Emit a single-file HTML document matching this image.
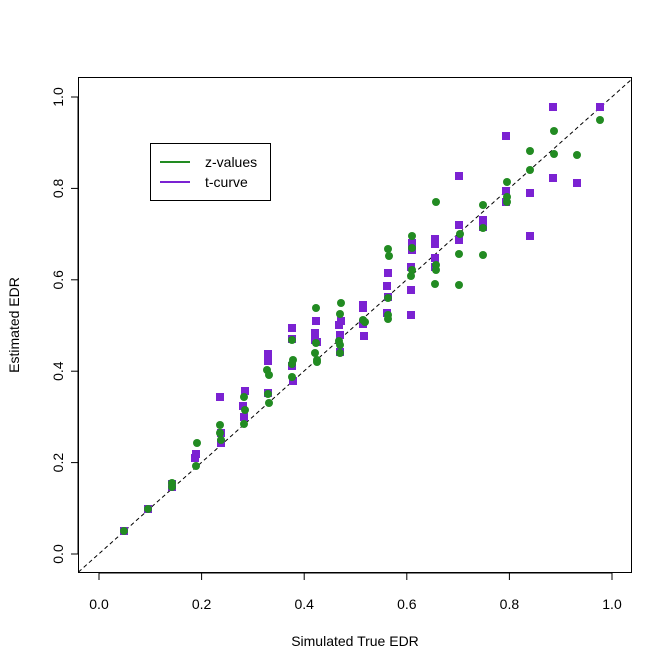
<!DOCTYPE html>
<html><head><meta charset="utf-8"><style>
body{margin:0;background:#fff;}
svg{display:block;font-family:"Liberation Sans",Arial,sans-serif;}
</style></head><body>
<svg width="672" height="671" xmlns="http://www.w3.org/2000/svg">
<rect width="672" height="671" fill="#fff"/>
<defs><clipPath id="c"><rect x="78" y="77" width="554" height="496"/></clipPath></defs>
<line x1="78.5" y1="572" x2="632" y2="79" stroke="#000" stroke-width="1" stroke-dasharray="4,3" clip-path="url(#c)"/>
<g fill="#7b22d2">
<rect x="120" y="527" width="8" height="8"/><rect x="144" y="505" width="8" height="8"/><rect x="168" y="483" width="8" height="8"/><rect x="168" y="480" width="8" height="8"/>
<rect x="192" y="450" width="8" height="8"/><rect x="191" y="454" width="8" height="8"/>
<rect x="216" y="393" width="8" height="8"/><rect x="217" y="429" width="8" height="8"/><rect x="217" y="439" width="8" height="8"/>
<rect x="241" y="387" width="8" height="8"/><rect x="239" y="402" width="8" height="8"/><rect x="240" y="413" width="8" height="8"/>
<rect x="264" y="350" width="8" height="8"/><rect x="264" y="357" width="8" height="8"/><rect x="264" y="389" width="8" height="8"/>
<rect x="288" y="324" width="8" height="8"/><rect x="288" y="335" width="8" height="8"/><rect x="288" y="362" width="8" height="8"/><rect x="289" y="377" width="8" height="8"/>
<rect x="312" y="317" width="8" height="8"/><rect x="311" y="329" width="8" height="8"/><rect x="311" y="336" width="8" height="8"/><rect x="313" y="338" width="8" height="8"/>
<rect x="337" y="317" width="8" height="8"/><rect x="335" y="321" width="8" height="8"/><rect x="336" y="331" width="8" height="8"/><rect x="336" y="348" width="8" height="8"/>
<rect x="359" y="301" width="8" height="8"/><rect x="359" y="304" width="8" height="8"/><rect x="359" y="320" width="8" height="8"/><rect x="360" y="332" width="8" height="8"/>
<rect x="383" y="309" width="8" height="8"/><rect x="384" y="269" width="8" height="8"/><rect x="383" y="282" width="8" height="8"/><rect x="384" y="293" width="8" height="8"/>
<rect x="407" y="311" width="8" height="8"/><rect x="408" y="239" width="8" height="8"/><rect x="408" y="246" width="8" height="8"/><rect x="407" y="263" width="8" height="8"/><rect x="407" y="286" width="8" height="8"/>
<rect x="431" y="235" width="8" height="8"/><rect x="431" y="240" width="8" height="8"/><rect x="431" y="254" width="8" height="8"/><rect x="431" y="263" width="8" height="8"/>
<rect x="455" y="172" width="8" height="8"/><rect x="455" y="221" width="8" height="8"/><rect x="455" y="236" width="8" height="8"/>
<rect x="479" y="216" width="8" height="8"/><rect x="479" y="223" width="8" height="8"/>
<rect x="502" y="132" width="8" height="8"/><rect x="502" y="187" width="8" height="8"/><rect x="502" y="198" width="8" height="8"/>
<rect x="526" y="189" width="8" height="8"/><rect x="526" y="232" width="8" height="8"/>
<rect x="549" y="103" width="8" height="8"/><rect x="549" y="174" width="8" height="8"/>
<rect x="573" y="179" width="8" height="8"/><rect x="596" y="103" width="8" height="8"/>
</g>
<g fill="#228b22">
<circle cx="124" cy="531" r="4"/><circle cx="148" cy="509" r="4"/><circle cx="172" cy="483" r="4"/><circle cx="172" cy="487" r="4"/>
<circle cx="196" cy="466" r="4"/><circle cx="197" cy="443" r="4"/>
<circle cx="220" cy="425" r="4"/><circle cx="220" cy="433" r="4"/><circle cx="221" cy="440" r="4"/>
<circle cx="244" cy="397" r="4"/><circle cx="245" cy="410" r="4"/><circle cx="244" cy="424" r="4"/>
<circle cx="267" cy="370" r="4"/><circle cx="269" cy="375" r="4"/><circle cx="268" cy="394" r="4"/><circle cx="269" cy="403" r="4"/>
<circle cx="292" cy="340" r="4"/><circle cx="293" cy="360" r="4"/><circle cx="292" cy="364" r="4"/><circle cx="292" cy="377" r="4"/>
<circle cx="316" cy="308" r="4"/><circle cx="316" cy="343" r="4"/><circle cx="315" cy="353" r="4"/><circle cx="317" cy="360" r="4"/><circle cx="317" cy="362" r="4"/>
<circle cx="341" cy="303" r="4"/><circle cx="340" cy="314" r="4"/><circle cx="339" cy="341" r="4"/><circle cx="340" cy="345" r="4"/><circle cx="340" cy="353" r="4"/>
<circle cx="363" cy="320" r="4"/><circle cx="365" cy="322" r="4"/>
<circle cx="388" cy="249" r="4"/><circle cx="389" cy="256" r="4"/><circle cx="388" cy="298" r="4"/><circle cx="388" cy="315" r="4"/><circle cx="388" cy="319" r="4"/>
<circle cx="412" cy="236" r="4"/><circle cx="412" cy="248" r="4"/><circle cx="412" cy="270" r="4"/><circle cx="411" cy="276" r="4"/>
<circle cx="436" cy="202" r="4"/><circle cx="436" cy="265" r="4"/><circle cx="436" cy="270" r="4"/><circle cx="435" cy="284" r="4"/>
<circle cx="460" cy="234" r="4"/><circle cx="459" cy="254" r="4"/><circle cx="459" cy="285" r="4"/>
<circle cx="483" cy="205" r="4"/><circle cx="483" cy="228" r="4"/><circle cx="483" cy="255" r="4"/>
<circle cx="507" cy="182" r="4"/><circle cx="507" cy="197" r="4"/><circle cx="507" cy="202" r="4"/>
<circle cx="530" cy="151" r="4"/><circle cx="530" cy="170" r="4"/>
<circle cx="554" cy="131" r="4"/><circle cx="554" cy="154" r="4"/>
<circle cx="577" cy="155" r="4"/><circle cx="600" cy="120" r="4"/>
</g>
<rect x="78.5" y="77.5" width="553" height="495" fill="none" stroke="#000"/>
<g stroke="#000">
<line x1="99" y1="573" x2="612" y2="573"/>
<line x1="99" y1="573" x2="99" y2="580"/><line x1="201.6" y1="573" x2="201.6" y2="580"/><line x1="304.2" y1="573" x2="304.2" y2="580"/><line x1="406.8" y1="573" x2="406.8" y2="580"/><line x1="509.4" y1="573" x2="509.4" y2="580"/><line x1="612" y1="573" x2="612" y2="580"/>
<line x1="78" y1="554" x2="78" y2="97"/>
<line x1="71" y1="554" x2="78" y2="554"/><line x1="71" y1="462.6" x2="78" y2="462.6"/><line x1="71" y1="371.2" x2="78" y2="371.2"/><line x1="71" y1="279.8" x2="78" y2="279.8"/><line x1="71" y1="188.4" x2="78" y2="188.4"/><line x1="71" y1="97" x2="78" y2="97"/>
</g>
<g font-size="14" text-anchor="middle" fill="#000">
<text x="99" y="609">0.0</text><text x="201.6" y="609">0.2</text><text x="304.2" y="609">0.4</text><text x="406.8" y="609">0.6</text><text x="509.4" y="609">0.8</text><text x="612" y="609">1.0</text>
<g transform="rotate(-90)">
<text x="-554" y="63">0.0</text><text x="-462.6" y="63">0.2</text><text x="-371.2" y="63">0.4</text><text x="-279.8" y="63">0.6</text><text x="-188.4" y="63">0.8</text><text x="-97" y="63">1.0</text>
<text x="-325" y="19">Estimated EDR</text>
</g>
<text x="355" y="646">Simulated True EDR</text>
</g>
<rect x="150.5" y="143.5" width="120" height="57" fill="#fff" stroke="#000"/>
<line x1="160" y1="162" x2="190" y2="162" stroke="#228b22" stroke-width="2"/>
<line x1="160" y1="182" x2="190" y2="182" stroke="#7b22d2" stroke-width="2"/>
<text x="205" y="167" font-size="14">z-values</text>
<text x="205" y="187" font-size="14">t-curve</text>
</svg>
</body></html>
